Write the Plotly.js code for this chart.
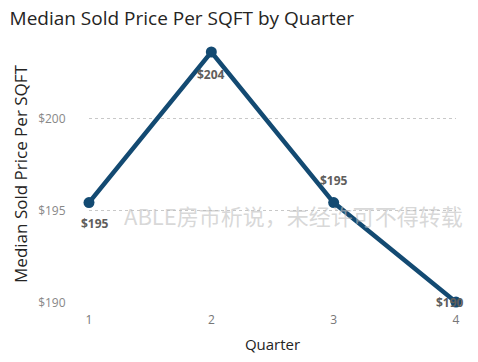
<!DOCTYPE html>
<html>
<head>
<meta charset="utf-8">
<script src="https://cdn.plot.ly/plotly-3.0.1.min.js"></script>
<style>html,body{margin:0;padding:0;background:#fff;}#chart{width:478px;height:362px;}</style>
</head>
<body>
<div id="chart"></div>
<script>
const quarters = [1, 2, 3, 4];
const medianPrice = [195.45, 203.62, 195.45, 190.05];
const priceLabels = ['$195', '$204', '$195', '$190'];
const yTickVals = [190, 195, 200];
const yTickText = ['$190', '$195', '$200'];
const xTickText = ['1', '2', '3', '4'];

const labelOffsets = [[6, -21], [0, -22], [0, 22], [-6, 0]];

const trace = {
  x: quarters,
  y: medianPrice,
  type: 'scatter',
  mode: 'lines+markers',
  line: {color: '#134A72', width: 4.5},
  marker: {color: '#134A72', size: 11},
  cliponaxis: false,
  hoverinfo: 'skip'
};

const annotations = [{
  xref: 'paper', yref: 'paper', x: 0.556, y: 0.27,
  text: 'ABLE房市析说，未经许可不得转载',
  showarrow: false,
  font: {family: 'Noto Sans CJK SC', size: 22, color: 'rgba(190,190,190,0.6)'}
}].concat(quarters.map((q, i) => ({
  x: q, y: medianPrice[i], xref: 'x', yref: 'y',
  text: '<b>' + priceLabels[i] + '</b>',
  showarrow: false,
  xshift: labelOffsets[i][0], yshift: labelOffsets[i][1],
  font: {family: 'Open Sans', size: 12, color: '#605E5C'}
})));

const layout = {
  width: 478, height: 362,
  margin: {l: 89, r: 22, t: 45, b: 59},
  paper_bgcolor: '#fff', plot_bgcolor: '#fff',
  showlegend: false,
  title: {text: 'Median Sold Price Per SQFT by Quarter', x: 0.02, xanchor: 'left', y: 0.95, yanchor: 'middle',
          font: {family: 'Open Sans', size: 19, color: '#252423'}},
  xaxis: {
    range: [1, 4], tickvals: quarters, ticktext: xTickText,
    showgrid: false, zeroline: false, showline: false,
    ticks: 'outside', ticklen: 6, tickcolor: 'rgba(0,0,0,0)',
    tickfont: {family: 'Open Sans', size: 12, color: '#777'},
    title: {text: 'Quarter', standoff: 12, font: {family: 'Open Sans', size: 15, color: '#252423'}}
  },
  yaxis: {
    range: [190, 204], tickvals: yTickVals, ticktext: yTickText,
    showgrid: true, gridcolor: '#C8C8C8', griddash: 'dot', gridwidth: 1,
    zeroline: false, showline: false,
    ticks: 'outside', ticklen: 20, tickcolor: 'rgba(0,0,0,0)',
    tickfont: {family: 'Open Sans', size: 12, color: '#888'},
    title: {text: 'Median Sold Price Per SQFT', standoff: 6, font: {family: 'Open Sans', size: 17, color: '#252423'}}
  },
  annotations: annotations
};

Plotly.newPlot('chart', [trace], layout, {staticPlot: true, displayModeBar: false});
</script>
</body>
</html>
